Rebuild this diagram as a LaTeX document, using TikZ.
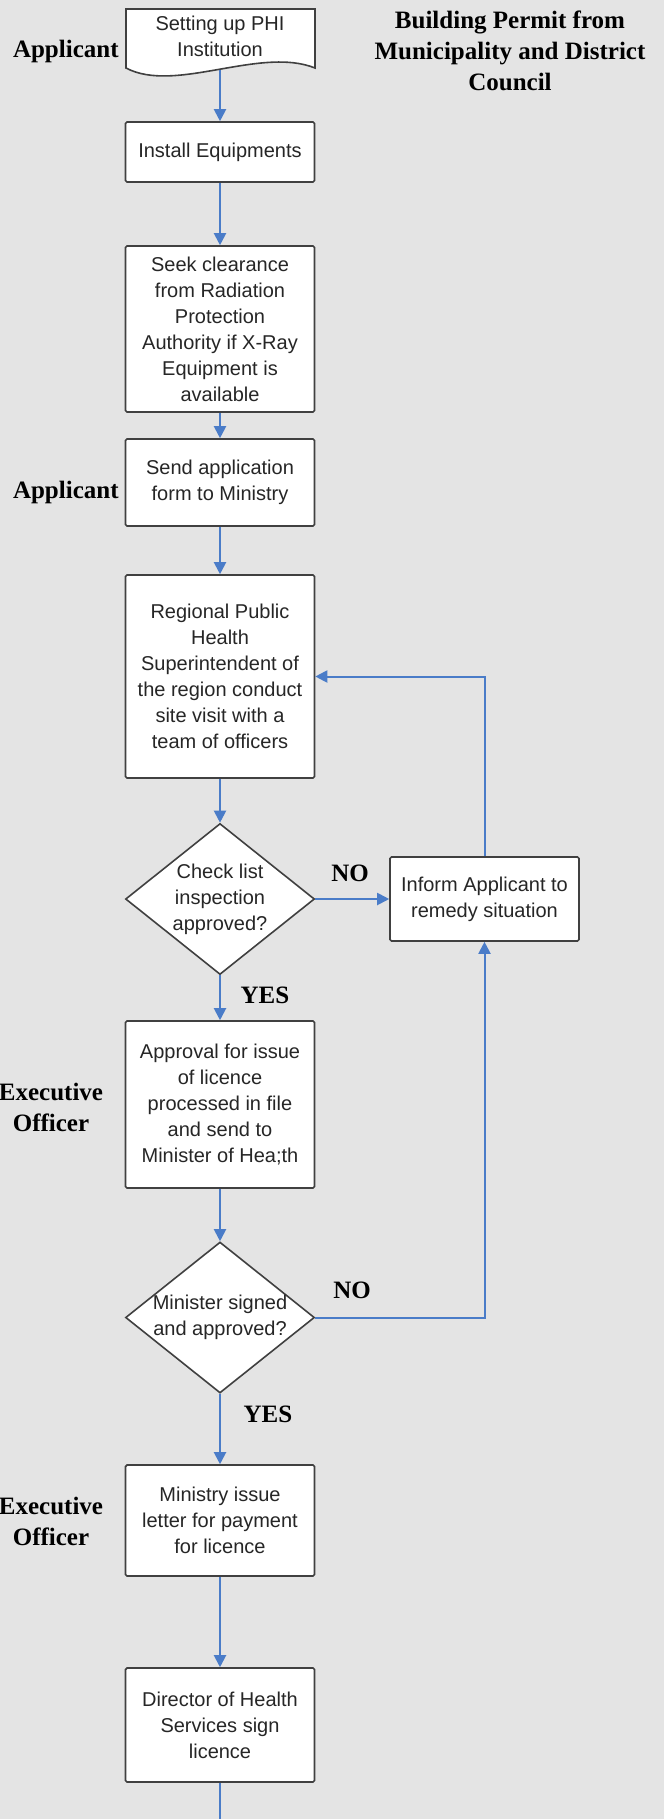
\documentclass[tikz,border=0pt]{standalone}
\usepackage{fontspec}
\setmainfont{Liberation Serif}
\setsansfont{Liberation Sans}
\usetikzlibrary{shapes.geometric,arrows.meta}
\definecolor{bgcol}{RGB}{228,228,228}
\definecolor{linecol}{RGB}{64,64,64}
\definecolor{flowcol}{RGB}{74,124,200}

\begin{document}
\begin{tikzpicture}[x=0.5pt,y=-0.5pt,
  box/.style={draw=linecol, fill=white, line width=0.8pt, rounded corners=0.8pt,
    minimum width=94.5pt, align=center, inner sep=2pt,
    font=\sffamily\fontsize{10}{13}\selectfont, text=black!85},
  decision/.style={draw=linecol, fill=white, line width=0.8pt, diamond,
    minimum width=94.5pt, minimum height=75.5pt, inner sep=0pt},
  boxtext/.style={align=center, font=\sffamily\fontsize{10}{13}\selectfont, text=black!85},
  lane/.style={font=\bfseries\fontsize{12.5}{15.5}\selectfont, align=center, inner sep=0pt},
  flow/.style={draw=flowcol, line width=1pt, -{Triangle[length=6pt,width=6pt]}},
]
\fill[bgcol] (0,0) rectangle (664,1819);
\useasboundingbox (0,0) rectangle (664,1819);

\filldraw[fill=white, draw=linecol, line width=0.8pt]
  (126,68) -- (126,9) -- (315,9) -- (315,68) .. controls (260,46) and (175,94) .. (126,68) -- cycle;
\node[boxtext] (setup) at (220,36) {Setting up PHI\\Institution};
\coordinate (setupfoot) at (220,70);

\node[box, minimum height=30pt] (install) at (220,152) {Install Equipments};
\node[box, minimum height=83pt] (seek) at (220,329)
  {Seek clearance\\from Radiation\\Protection\\Authority if X-Ray\\Equipment is\\available};
\node[box, minimum height=43.5pt] (send) at (220,482.5) {Send application\\form to Ministry};
\node[box, minimum height=101.5pt] (visit) at (220,676.5)
  {Regional Public\\Health\\Superintendent of\\the region conduct\\site visit with a\\team of officers};
\node[decision] (check) at (220,899) {};
\node[boxtext] (checktext) at (check) {Check list\\inspection\\approved?};
\node[box, minimum height=42pt] (inform) at (484.5,899) {Inform Applicant to\\remedy situation};
\node[box, minimum height=83.5pt] (approval) at (220,1104.5)
  {Approval for issue\\of licence\\processed in file\\and send to\\Minister of Hea;th};
\node[decision] (signed) at (220,1317.5) {};
\node[boxtext] (signedtext) at (signed) {Minister signed\\and approved?};
\node[box, minimum height=55.5pt] (letter) at (220,1520.5) {Ministry issue\\letter for payment\\for licence};
\node[box, minimum height=57pt] (director) at (220,1725) {Director of Health\\Services sign\\licence};
\coordinate (flowend) at (220,1819);

\node[lane, anchor=east] (appl1) at (119,51) {Applicant};
\node[lane, anchor=east] (appl2) at (119,492) {Applicant};
\node[lane] (exec1) at (51,1107) {Executive\\Officer};
\node[lane] (exec2) at (51,1521) {Executive\\Officer};
\node[lane] (permit) at (510,51) {Building Permit from\\Municipality and District\\Council};

\node[lane] (no1) at (350,873) {NO};
\node[lane] (yes1) at (265,995) {YES};
\node[lane] (no2) at (352,1290) {NO};
\node[lane] (yes2) at (268,1414) {YES};

\draw[flow] (setupfoot) -- (install);
\draw[flow] (install) -- (seek);
\draw[flow] (seek) -- (send);
\draw[flow] (send) -- (visit);
\draw[flow] (visit) -- (check);
\draw[flow] (check) -- (approval);
\draw[flow] (check) -- (inform);
\draw[flow] (inform.north) |- (visit.east);
\draw[flow] (approval) -- (signed);
\draw[flow] (signed.east) -| (inform.south);
\draw[flow] (signed) -- (letter);
\draw[flow] (letter) -- (director);
\draw[flow, -] (director) -- (flowend);
\end{tikzpicture}
\end{document}
